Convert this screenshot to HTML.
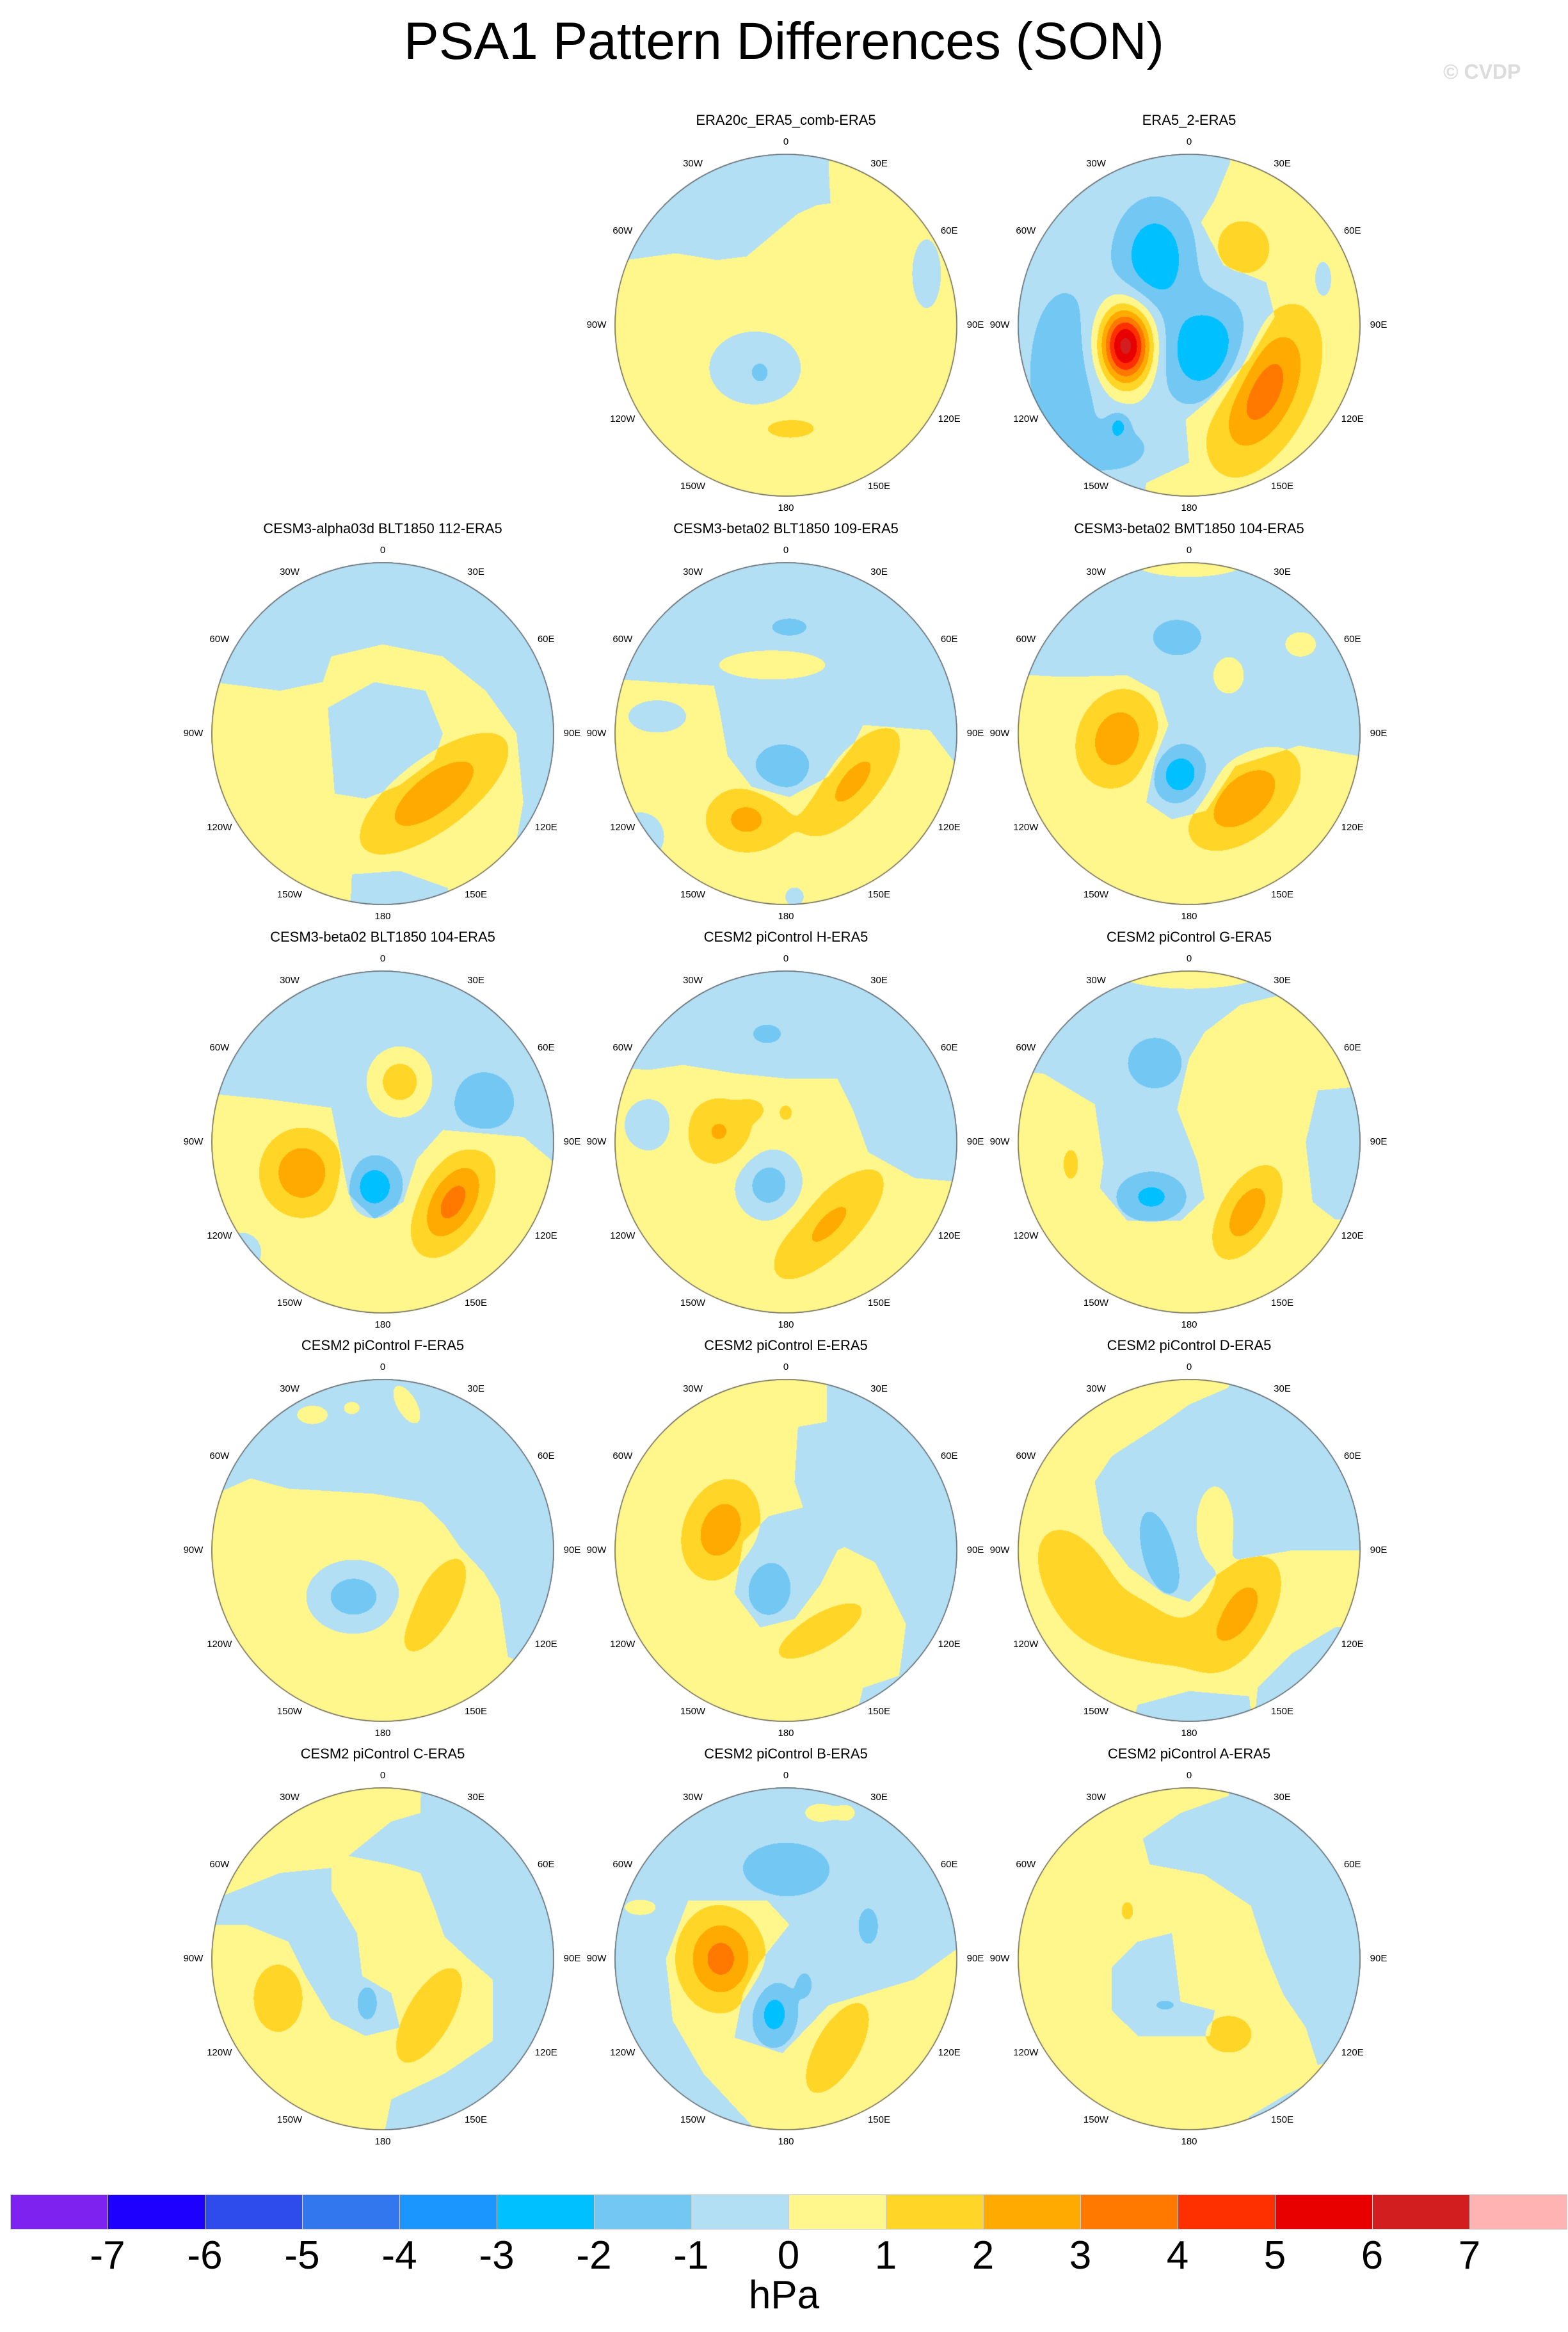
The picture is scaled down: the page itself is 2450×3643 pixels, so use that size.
<!DOCTYPE html>
<html><head><meta charset="utf-8"><style>
html,body{margin:0;padding:0;background:#fff}
#root{position:relative;width:2450px;height:3643px;overflow:hidden;font-family:"Liberation Sans",sans-serif;color:#000}
.ttl{position:absolute;left:0;width:2450px;text-align:center;font-size:82px;top:18px}
.cvdp{position:absolute;left:2255px;top:94px;font-size:32px;font-weight:bold;color:#dcdcdc}
.pt{position:absolute;width:700px;text-align:center;font-size:22px;white-space:nowrap}
.lb{position:absolute;width:80px;text-align:center;font-size:15px;line-height:16px}
canvas{position:absolute}
.cb{position:absolute;top:3428px;height:55px;box-sizing:border-box;border:1px solid #ccc}
.cl{position:absolute;width:120px;text-align:center;font-size:62px;top:3488px}
.hpa{position:absolute;left:0;width:2450px;text-align:center;font-size:62px;top:3550px}
</style></head><body>
<div id="root">
<div class="ttl">PSA1 Pattern Differences (SON)</div>
<div class="cvdp">© CVDP</div>
</div>
<script>
// ---------- data ----------
const levelColors=["#7E22EF","#1E00FF","#2E4BEB","#3377EE","#1C96FF","#00C0FF","#73C7F3","#B3DFF4","#FFF68C","#FFD527","#FFAA00","#FF7800","#FF3000","#E80000","#D21E1E","#FFB3B3"];
const levelTicks=["-7","-6","-5","-4","-3","-2","-1","0","1","2","3","4","5","6","7"];
const lonLabels=["0","30E","60E","90E","120E","150E","180","150W","120W","90W","60W","30W"];
const panelTitles=["ERA20c_ERA5_comb-ERA5","ERA5_2-ERA5","CESM3-alpha03d BLT1850 112-ERA5","CESM3-beta02 BLT1850 109-ERA5","CESM3-beta02 BMT1850 104-ERA5","CESM3-beta02 BLT1850 104-ERA5","CESM2 piControl H-ERA5","CESM2 piControl G-ERA5","CESM2 piControl F-ERA5","CESM2 piControl E-ERA5","CESM2 piControl D-ERA5","CESM2 piControl C-ERA5","CESM2 piControl B-ERA5","CESM2 piControl A-ERA5"];
const panelCol=[1,2,0,1,2,0,1,2,0,1,2,0,1,2];
const panelRow=[0,0,1,1,1,2,2,2,3,3,3,4,4,4];
const baseSign=[1,1,1,1,1,1,1,1,1,1,1,1,-1,1];
const basePolys=[
 [[[-1.3,-1.3],[-1.3,-0.38],[-0.93,-0.38],[-0.64,-0.42],[-0.4,-0.38],[-0.23,-0.4],[-0.05,-0.55],[0.07,-0.65],[0.18,-0.7],[0.26,-0.71],[0.25,-0.9],[0.25,-1.3]]],
 [[[-1.3,-1.3],[0.24,-1.3],[0.24,-0.95],[0.15,-0.73],[0.07,-0.6],[0.2,-0.35],[0.45,-0.25],[0.5,-0.05],[0.35,0.2],[0.1,0.45],[-0.02,0.55],[0.0,0.8],[-0.25,0.92],[-0.3,1.3],[-1.3,1.3]]],
 [[[-1.3,-1.3],[-1.3,-0.34],[-0.6,-0.25],[-0.35,-0.3],[-0.3,-0.45],[0,-0.52],[0.35,-0.45],[0.6,-0.25],[0.78,0],[0.82,0.4],[0.78,0.62],[0.9,0.8],[1.3,0.8],[1.3,-1.3]],
  [[-0.32,-0.15],[-0.05,-0.3],[0.25,-0.25],[0.35,0.0],[0.3,0.15],[0.1,0.3],[-0.1,0.38],[-0.28,0.35],[-0.3,0.1]],
  [[-0.2,1.3],[-0.18,0.82],[0.1,0.8],[0.38,0.9],[0.4,1.3]]],
 [[[-1.3,-1.3],[-1.3,-0.34],[-0.75,-0.3],[-0.42,-0.28],[-0.39,-0.15],[-0.34,0.13],[-0.2,0.31],[0.02,0.37],[0.25,0.25],[0.39,0.07],[0.45,-0.05],[0.84,-0.02],[1.0,0.19],[1.3,0.2],[1.3,-1.3]]],
 [[[-1.3,-1.3],[-1.3,-0.36],[-0.73,-0.33],[-0.36,-0.34],[-0.18,-0.24],[-0.12,-0.05],[-0.2,0.15],[-0.25,0.4],[-0.1,0.5],[0.1,0.45],[0.27,0.19],[0.64,0.07],[0.98,0.13],[1.3,0.14],[1.3,-1.3]]],
 [[[-1.3,-1.3],[-1.3,-0.31],[-0.68,-0.25],[-0.3,-0.2],[-0.25,0.05],[-0.2,0.3],[-0.05,0.45],[0.12,0.35],[0.2,0.1],[0.35,-0.07],[0.82,-0.03],[1.0,0.12],[1.3,0.12],[1.3,-1.3]]],
 [[[-1.3,-1.3],[-1.3,-0.46],[-0.8,-0.42],[-0.6,-0.45],[-0.3,-0.4],[0,-0.37],[0.3,-0.37],[0.39,-0.19],[0.48,0.06],[0.75,0.21],[0.98,0.23],[1.3,0.23],[1.3,-1.3]]],
 [[[-1.3,-1.3],[-1.3,-0.42],[-0.85,-0.4],[-0.55,-0.22],[-0.5,0.12],[-0.52,0.27],[-0.36,0.46],[-0.05,0.46],[0.09,0.33],[0.05,0.12],[-0.07,-0.19],[0,-0.49],[0.09,-0.64],[0.3,-0.8],[0.55,-0.86],[0.6,-1.3]],
  [[1.3,-0.35],[0.75,-0.3],[0.68,0.0],[0.72,0.35],[0.85,0.45],[1.3,0.45]]],
 [[[-1.3,-1.3],[-1.3,-0.34],[-0.95,-0.34],[-0.77,-0.42],[-0.55,-0.36],[-0.05,-0.33],[0.23,-0.28],[0.36,-0.15],[0.45,-0.02],[0.59,0.13],[0.68,0.28],[0.73,0.62],[0.8,0.65],[1.3,0.65],[1.3,-1.3]]],
 [[[0.24,-1.3],[0.24,-0.75],[0.07,-0.72],[0.05,-0.4],[0.1,-0.25],[-0.1,-0.2],[-0.25,-0.05],[-0.3,0.25],[-0.15,0.45],[0.05,0.4],[0.2,0.2],[0.3,0.0],[0.34,-0.02],[0.52,0.07],[0.7,0.43],[0.66,0.73],[0.45,0.8],[0.4,1.0],[0.6,1.3],[1.3,1.3],[1.3,-1.3]]],
 [[[0.23,-1.3],[0.23,-0.95],[0.0,-0.85],[-0.14,-0.75],[-0.45,-0.55],[-0.55,-0.4],[-0.5,-0.1],[-0.35,0.1],[-0.15,0.25],[0.0,0.3],[0.15,0.15],[0.3,0.05],[0.6,0.0],[0.98,0.0],[1.3,0.0],[1.3,-1.3]],
  [[0.35,1.3],[0.4,0.8],[0.6,0.6],[0.85,0.45],[1.3,0.45],[1.3,1.3]],
  [[-0.4,1.3],[-0.3,0.9],[0.0,0.82],[0.35,0.85],[0.4,1.3]]],
 [[[0.23,-1.3],[0.22,-0.85],[0.05,-0.8],[-0.2,-0.6],[0.05,-0.55],[0.22,-0.5],[0.3,-0.3],[0.36,-0.13],[0.5,0.0],[0.64,0.12],[0.64,0.48],[0.36,0.67],[0.05,0.82],[-0.05,1.3],[1.3,1.3],[1.3,-1.3]],
  [[-1.3,-0.4],[-0.95,-0.36],[-0.6,-0.5],[-0.3,-0.53],[-0.3,-0.4],[-0.15,-0.15],[-0.12,0.1],[0.05,0.2],[0.1,0.4],[-0.1,0.45],[-0.3,0.35],[-0.45,0.1],[-0.55,-0.1],[-0.8,-0.2],[-1.3,-0.2]]],
 [[[-0.57,-0.34],[-0.11,-0.34],[0.02,-0.2],[-0.16,0.03],[-0.25,0.2],[-0.3,0.46],[-0.02,0.55],[0.25,0.27],[0.75,0.12],[1.0,-0.06],[1.3,-0.06],[1.3,1.3],[-0.2,1.3],[-0.2,0.97],[-0.48,0.67],[-0.66,0.36],[-0.7,0.0]]],
 [[[0.23,-1.3],[0.23,-0.95],[-0.05,-0.85],[-0.27,-0.7],[-0.23,-0.55],[0.09,-0.49],[0.36,-0.31],[0.45,-0.03],[0.55,0.21],[0.68,0.4],[0.75,0.62],[0.95,0.55],[1.3,0.55],[1.3,-1.3]],
  [[-0.3,-0.1],[-0.1,-0.15],[-0.05,0.25],[0.15,0.3],[0.12,0.45],[-0.1,0.45],[-0.3,0.45],[-0.45,0.3],[-0.45,0.05]],
  [[0.3,1.3],[0.35,0.92],[0.55,0.8],[0.75,0.7],[1.3,0.7],[1.3,1.3]]]
];
const anomalies=[
 [[0.82,-0.3,-1.0,0.1,0.24,0],[-0.18,0.25,-1.1,0.3,0.24,0],[-0.15,0.28,-0.8,0.06,0.07,0],[0.02,0.6,1.0,0.18,0.07,0]],
 [[-0.37,0.12,7.0,0.15,0.22,0],[-0.2,-0.4,-2.4,0.2,0.28,0],[0.1,0.15,-2.5,0.25,0.28,0],[-0.72,0.28,-1.2,0.22,0.5,0],[-0.45,0.72,-1.2,0.2,0.12,0],[-0.41,0.58,-1.5,0.06,0.07,0],[0.43,0.38,3.2,0.4,0.21,115],[0.31,-0.45,1.3,0.16,0.16,0],[0.78,-0.26,-1.1,0.06,0.13,0]],
 [[0.3,0.35,2.3,0.42,0.17,143]],
 [[-0.08,-0.4,1.2,0.33,0.09,0],[-0.75,-0.1,-1.2,0.18,0.1,0],[-0.02,0.2,-1.3,0.17,0.14,0],[-0.23,0.5,1.8,0.21,0.17,0],[0.39,0.28,1.8,0.34,0.14,130],[-0.85,0.6,-1.2,0.15,0.15,0],[0.05,0.95,-1.1,0.06,0.06,0],[0.02,-0.62,-1.0,0.12,0.06,0]],
 [[0,-1.02,1.1,0.4,0.12,0],[0.65,-0.52,1.1,0.1,0.08,0],[0.23,-0.34,1.1,0.1,0.12,0],[-0.07,-0.56,-1.2,0.15,0.11,0],[-0.42,0.03,2.3,0.24,0.19,110],[-0.05,0.24,-2.3,0.14,0.15,0],[0.32,0.38,2.4,0.31,0.18,140]],
 [[0.1,-0.35,2.2,0.16,0.17,0],[0.59,-0.23,-1.3,0.18,0.18,0],[-0.47,0.18,2.4,0.2,0.21,0],[-0.05,0.26,-2.3,0.14,0.15,0],[0.41,0.35,2.9,0.27,0.15,120],[-0.82,0.64,-1.2,0.12,0.12,0]],
 [[-0.8,-0.1,-1.2,0.15,0.16,0],[-0.1,0.25,-2.1,0.17,0.18,0],[-0.39,-0.06,1.6,0.18,0.18,0],[0.0,-0.17,0.8,0.05,0.06,0],[-0.2,-0.19,0.8,0.08,0.06,0],[0.25,0.48,1.7,0.38,0.15,135],[-0.11,-0.63,-1.1,0.09,0.06,0]],
 [[0,-1.0,1.1,0.5,0.12,0],[-0.2,-0.46,-1.3,0.16,0.15,0],[-0.22,0.32,-1.8,0.18,0.13,0],[0.34,0.41,2.2,0.25,0.13,120],[-0.69,0.13,1.0,0.05,0.1,0]],
 [[-0.41,-0.79,1.1,0.1,0.06,0],[-0.18,-0.83,1.1,0.05,0.04,0],[0.14,-0.85,1.2,0.13,0.06,60],[-0.17,0.27,-2.1,0.23,0.18,0],[0.3,0.32,1.4,0.3,0.12,120]],
 [[-0.1,0.22,-1.3,0.13,0.16,0],[-0.38,-0.12,2.2,0.25,0.18,110],[0.2,0.47,1.3,0.28,0.1,150]],
 [[0.15,-0.15,1.1,0.12,0.25,0],[-0.17,0.04,-1.3,0.28,0.1,75],[-0.65,0.18,1.2,0.35,0.2,60],[-0.2,0.48,1.2,0.35,0.18,15],[0.3,0.35,1.9,0.3,0.16,120]],
 [[-0.09,0.26,-1.2,0.06,0.1,0],[-0.61,0.23,1.1,0.16,0.22,0],[0.27,0.33,1.2,0.33,0.14,120]],
 [[-0.85,-0.3,1.1,0.1,0.05,0],[0.2,-0.85,1.1,0.1,0.06,0],[0.35,-0.85,1.0,0.06,0.05,0],[-0.38,0.0,2.9,0.2,0.24,0],[-0.07,0.32,-2.0,0.12,0.17,0],[0.0,-0.52,-1.3,0.26,0.16,0],[0.48,-0.19,-1.2,0.06,0.11,0],[0.11,0.15,-0.9,0.05,0.08,0],[0.3,0.52,1.3,0.3,0.13,120]],
 [[0.23,0.44,1.1,0.15,0.12,0],[-0.36,-0.28,1.0,0.04,0.06,0],[-0.14,0.27,-1.0,0.06,0.03,0]]
];
// ---------- layout ----------
const colX=[598,1228,1858];
const rowY=[508,1146,1784,2422,3060];
const RAD=268;
const root=document.getElementById('root');
function hex(c){return [parseInt(c.slice(1,3),16),parseInt(c.slice(3,5),16),parseInt(c.slice(5,7),16)];}
const rgb=levelColors.map(hex);
function drawPanel(p){
  const cx=colX[panelCol[p]], cy=rowY[panelRow[p]], S=RAD*2;
  const t=document.createElement('div');
  
  
  t.className='pt'; t.textContent=panelTitles[p];
  t.style.left=(cx-350)+'px'; t.style.top=(cy-RAD-65)+'px';
  root.appendChild(t);
  const cv=document.createElement('canvas');
  
  
  cv.width=S; cv.height=S; cv.style.left=(cx-RAD)+'px'; cv.style.top=(cy-RAD)+'px';
  root.appendChild(cv);
  const mc=document.createElement('canvas'); mc.width=S; mc.height=S;
  const mx=mc.getContext('2d'); mx.fillStyle='#000'; mx.fillRect(0,0,S,S); mx.fillStyle='#fff';
  basePolys[p].forEach(poly=>{mx.beginPath();poly.forEach((pt,i)=>{const X=RAD+pt[0]*RAD,Y=RAD+pt[1]*RAD;if(i)mx.lineTo(X,Y);else mx.moveTo(X,Y);});mx.closePath();mx.fill();});
  const md=mx.getImageData(0,0,S,S).data;
  const ctx=cv.getContext('2d'); const img=ctx.createImageData(S,S); const d=img.data;
  const an=anomalies[p].map(a=>{const r=a[5]*Math.PI/180;return [a[0],a[1],a[2],1/(a[3]*a[3]),1/(a[4]*a[4]),Math.cos(r),Math.sin(r)];});
  const bs=baseSign[p]*0.5;
  for(let j=0;j<S;j++){const y=(j+0.5-RAD)/RAD;
    for(let i=0;i<S;i++){const x=(i+0.5-RAD)/RAD; const rr=x*x+y*y; if(rr>1)continue;
      const k=(j*S+i)*4;
      let v=md[k]>127?-bs:bs;
      for(const a of an){const dx=x-a[0],dy=y-a[1];const u=a[5]*dx+a[6]*dy,w=-a[6]*dx+a[5]*dy;const q=u*u*a[3]+w*w*a[4];if(q<12)v+=a[2]*Math.exp(-q);}
      let idx=Math.floor(v)+8; if(idx<0)idx=0; if(idx>15)idx=15;
      const c=rgb[idx]; d[k]=c[0];d[k+1]=c[1];d[k+2]=c[2];d[k+3]=255;}
  }
  ctx.putImageData(img,0,0);
  ctx.beginPath(); ctx.arc(RAD,RAD,RAD-1,0,Math.PI*2); ctx.strokeStyle='#666'; ctx.lineWidth=1.5; ctx.stroke();
  lonLabels.forEach((s,k)=>{const a=k*Math.PI/6; const dd=RAD+18+10*Math.abs(Math.sin(a));
    const l=document.createElement('div');
    
    
    l.className='lb'; l.textContent=s;
    l.style.left=(cx+dd*Math.sin(a)-40)+'px'; l.style.top=(cy-dd*Math.cos(a)-8)+'px';
    root.appendChild(l);});
}
for(let p=0;p<panelTitles.length;p++)drawPanel(p);
// ---------- colorbar ----------
const cbX0=16, cbW=152;
levelColors.forEach((c,i)=>{const b=document.createElement('div');
  
  
  b.className='cb'; b.style.left=(cbX0+i*cbW)+'px'; b.style.width=(cbW+1)+'px'; b.style.background=c; root.appendChild(b);});
levelTicks.forEach((s,i)=>{const l=document.createElement('div');
  
  
  l.className='cl'; l.textContent=s; l.style.left=(cbX0+(i+1)*cbW-60)+'px'; root.appendChild(l);});
const h=document.createElement('div');


h.className='hpa'; h.textContent='hPa'; root.appendChild(h);
</script>
</body></html>
